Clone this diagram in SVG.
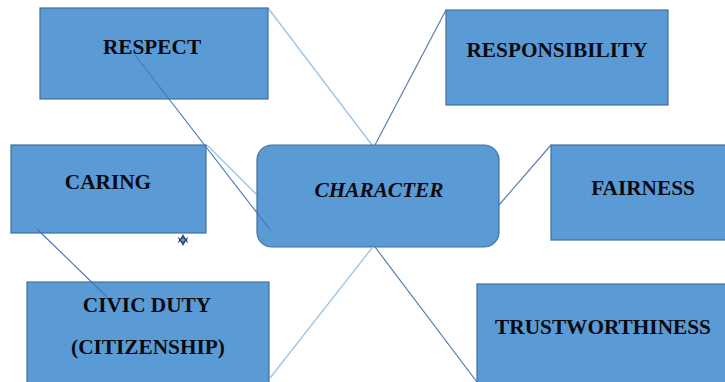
<svg xmlns="http://www.w3.org/2000/svg" width="725" height="382" viewBox="0 0 725 382">
  <style>
    .box { fill: #5b9bd5; stroke: #41719c; stroke-width: 1.2; }
    .lbl { font-family: 'Liberation Serif', 'Times New Roman', serif; font-weight: 700; font-size: 21.3px; fill: #0a0a10; text-anchor: middle; }
    .ital { font-style: italic; }
    .light { stroke: #9dc3e6; stroke-width: 1.3; fill: none; }
    .dark { stroke: #4472c4; stroke-width: 1.1; fill: none; }
    .slate { stroke: #5a7fae; stroke-width: 1.2; fill: none; }
  </style>
  <rect width="725" height="382" fill="#ffffff"/>

  <!-- connectors drawn beneath the boxes -->
  <g id="connectors-under">
    <line class="light" x1="268" y1="8" x2="372" y2="145"/>
    <line class="slate" x1="446" y1="10" x2="375" y2="145"/>
    <line class="light" x1="207" y1="145" x2="257" y2="195"/>
    <line class="slate" x1="551" y1="145" x2="499" y2="205"/>
    <line class="slate" x1="375" y1="247" x2="477" y2="382"/>
    <line class="light" x1="372" y1="248" x2="270" y2="378"/>
  </g>

  <g id="respect">
    <rect class="box" x="40" y="8" width="228" height="91"/>
    <text class="lbl" x="152" y="54">RESPECT</text>
  </g>
  <g id="responsibility">
    <rect class="box" x="446" y="10" width="222" height="95"/>
    <text class="lbl" x="557" y="57">RESPONSIBILITY</text>
  </g>
  <g id="caring">
    <rect class="box" x="11" y="145" width="195" height="88"/>
    <text class="lbl" x="108" y="189">CARING</text>
  </g>
  <g id="character">
    <rect class="box" x="257" y="145" width="242" height="102" rx="15" ry="15"/>
    <text class="lbl ital" x="379" y="197">CHARACTER</text>
  </g>
  <g id="fairness">
    <rect class="box" x="551" y="145" width="180" height="95"/>
    <text class="lbl" x="643" y="195">FAIRNESS</text>
  </g>
  <g id="civic-duty">
    <rect class="box" x="27" y="282" width="242" height="104"/>
    <text class="lbl" x="147" y="312">CIVIC DUTY</text>
    <text class="lbl" x="148" y="354">(CITIZENSHIP)</text>
  </g>
  <g id="trustworthiness">
    <rect class="box" x="477" y="284" width="254" height="104"/>
    <text class="lbl" x="603" y="334">TRUSTWORTHINESS</text>
  </g>

  <!-- connectors drawn over the boxes -->
  <g id="connectors-over">
    <line class="dark" x1="135" y1="55" x2="271" y2="231"/>
    <line class="dark" x1="37" y1="229" x2="107" y2="297"/>
  </g>

  <!-- small anchor star -->
  <g id="anchor-star">
    <polygon points="183,234 185.6,238.5 188.2,237 186.9,240 188.2,243 185.6,241.5 183,246 180.4,241.5 177.8,243 179.1,240 177.8,237 180.4,238.5" fill="#2f4f80"/>
    <circle cx="183" cy="240" r="1.6" fill="#6f9fd6"/>
  </g>
</svg>
